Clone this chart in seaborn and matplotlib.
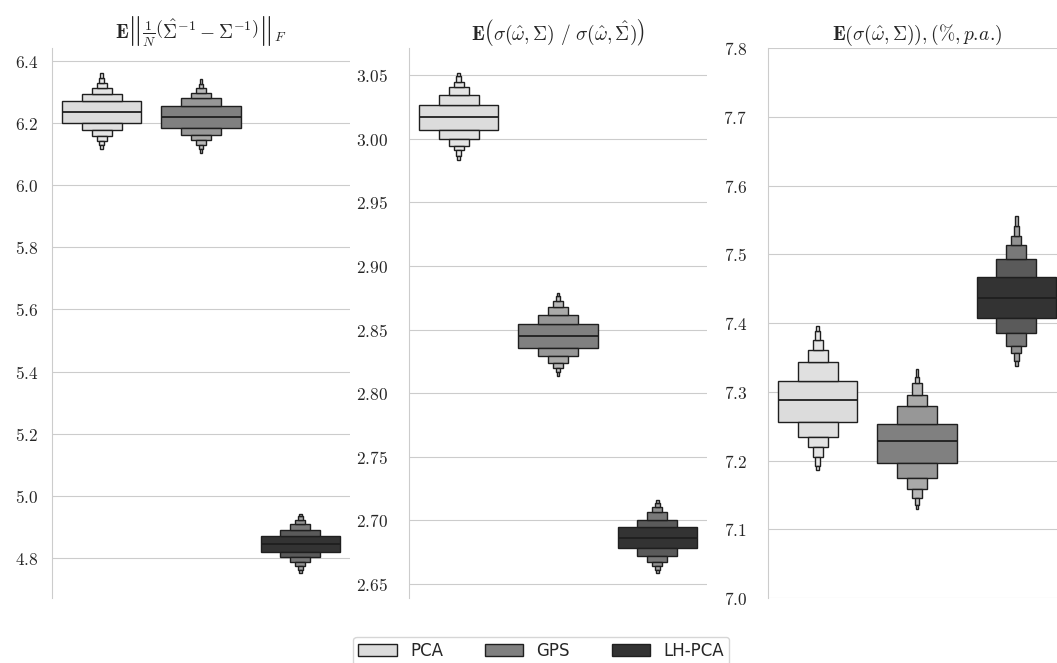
import matplotlib
matplotlib.use("Agg")
import matplotlib.pyplot as plt
import matplotlib.ticker as mticker
from matplotlib.patches import Patch
import seaborn as sns

# Letter values: median, then lower / upper edges
# from the inner box (quartiles) outwards.
methods = ["PCA", "GPS", "LH-PCA"]
palette = ["#dcdcdc", "#808080", "#333333"]

frob_median = [6.233, 6.218, 4.845]
frob_lower = [[6.198, 6.177, 6.158, 6.142, 6.128, 6.117],
              [6.184, 6.162, 6.145, 6.128, 6.115, 6.102],
              [4.820, 4.802, 4.788, 4.775, 4.763, 4.752]]
frob_upper = [[6.269, 6.293, 6.312, 6.328, 6.343, 6.360],
              [6.254, 6.279, 6.296, 6.311, 6.325, 6.342],
              [4.872, 4.891, 4.910, 4.924, 4.935, 4.942]]

ratio_median = [3.0172, 2.8452, 2.6863]
ratio_lower = [[3.0073, 3.0002, 2.9947, 2.9910, 2.9868, 2.9831],
               [2.8358, 2.8290, 2.8237, 2.8198, 2.8167, 2.8132],
               [2.6780, 2.6722, 2.6672, 2.6638, 2.6606, 2.6586]]
ratio_upper = [[3.0269, 3.0345, 3.0406, 3.0450, 3.0492, 3.0518],
               [2.8544, 2.8617, 2.8675, 2.8728, 2.8767, 2.8788],
               [2.6947, 2.7005, 2.7063, 2.7102, 2.7136, 2.7162]]

vol_median = [7.288, 7.228, 7.437]
vol_lower = [[7.256, 7.234, 7.219, 7.205, 7.192, 7.186],
             [7.196, 7.175, 7.159, 7.145, 7.136, 7.129],
             [7.408, 7.386, 7.367, 7.356, 7.345, 7.338]]
vol_upper = [[7.315, 7.343, 7.361, 7.375, 7.389, 7.396],
             [7.253, 7.280, 7.296, 7.313, 7.322, 7.333],
             [7.467, 7.493, 7.514, 7.527, 7.541, 7.556]]

titles = [
    r"$\mathbf{E}\left\|\frac{1}{N}\left(\hat{\Sigma}^{-1}-\Sigma^{-1}\right)\right\|_F$",
    r"$\mathbf{E}\left(\sigma(\hat{\omega},\Sigma)\ /\ \sigma(\hat{\omega},\hat{\Sigma})\right)$",
    r"$\mathbf{E}\left(\sigma(\hat{\omega},\Sigma)\right),(\%,p.\!a.\!)$",
]

sns.set_style("whitegrid")
plt.rcParams["mathtext.fontset"] = "cm"
plt.rcParams["font.family"] = ["DejaVu Sans"]

edge = (0.12, 0.12, 0.12)


def boxen(ax, medians, lowers, uppers, width=0.8):
    for pos, (med, lo, hi, col) in enumerate(zip(medians, lowers, uppers, palette)):
        cmap = sns.light_palette(col, as_cmap=True)
        for lev in range(len(lo)):
            w = width * 2.0 ** (-lev)
            c = cmap(2.0 ** (-lev / 3))
            if lev == 0:
                ax.bar(pos, hi[0] - lo[0], w, bottom=lo[0], color=c,
                       edgecolor=edge, linewidth=1.0, zorder=3)
            else:
                ax.bar(pos, hi[lev] - hi[lev - 1], w, bottom=hi[lev - 1], color=c,
                       edgecolor=edge, linewidth=1.0, zorder=3)
                ax.bar(pos, lo[lev - 1] - lo[lev], w, bottom=lo[lev], color=c,
                       edgecolor=edge, linewidth=1.0, zorder=3)
        ax.plot([pos - width / 2, pos + width / 2], [med, med], color=edge,
                linewidth=1.3, zorder=4, solid_capstyle="butt")


fig = plt.figure(figsize=(10.57, 6.63), dpi=100)
lefts = [52 / 1057, 409 / 1057, 768 / 1057]
axes = [fig.add_axes([l, 0.098, 298 / 1057, 0.8296]) for l in lefts]

panels = [(frob_median, frob_lower, frob_upper, "$%.1f$", 6.5),
          (ratio_median, ratio_lower, ratio_upper, "$%.2f$", 11.5),
          (vol_median, vol_lower, vol_upper, "$%.1f$", 11.5)]

for ax, (med, lo, hi, fmt, pad), title in zip(axes, panels, titles):
    boxen(ax, med, lo, hi)
    ax.set_xlim(-0.5, 2.5)
    ax.set_xticks([])
    ax.yaxis.set_major_formatter(mticker.FormatStrFormatter(fmt))
    ax.tick_params(axis="y", labelsize=12.5, pad=pad)
    ax.set_title(title, fontsize=14)
    ax.grid(axis="x", visible=False)
    sns.despine(ax=ax, bottom=True)

ymin = min(min(r) for r in frob_lower)
ymax = max(max(r) for r in frob_upper)
m = (ymax - ymin) * 0.05
axes[0].set_ylim(ymin - m, ymax + m)
ymin = min(min(r) for r in ratio_lower)
ymax = max(max(r) for r in ratio_upper)
m = (ymax - ymin) * 0.05
axes[1].set_ylim(ymin - m, ymax + m)
axes[2].set_ylim(7.0, 7.8)

handles = [Patch(facecolor=c, edgecolor=edge, linewidth=1.0) for c in palette]
fig.legend(handles, methods, loc="upper center", bbox_to_anchor=(0.512, 0.052),
           ncol=3, fontsize=12, handlelength=2.3, columnspacing=2.5,
           borderpad=0.3, frameon=True)

fig.savefig("out.png", dpi=100)
